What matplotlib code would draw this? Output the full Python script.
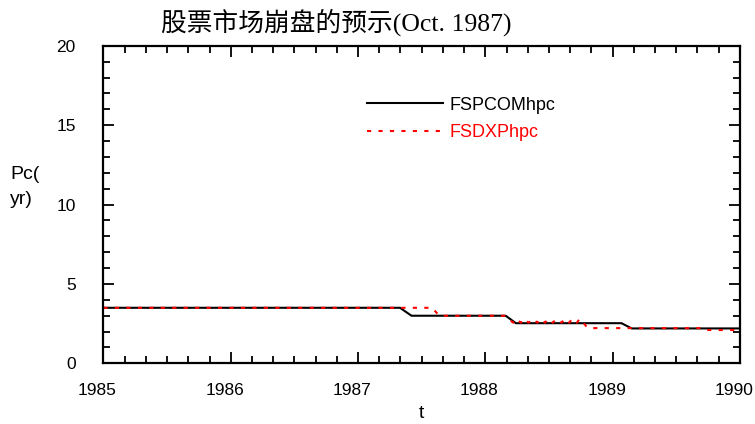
import matplotlib
matplotlib.use('Agg')
import matplotlib.pyplot as plt
import matplotlib.transforms as mtransforms
from matplotlib.ticker import MultipleLocator

plt.rcParams['font.family'] = ['Liberation Sans', 'DejaVu Sans']

# step curves of the two estimates
t_spcom = [1985.0, 1987.33, 1987.42, 1988.16, 1988.24, 1989.07, 1989.15, 1990.0]
pc_spcom = [3.5, 3.5, 3.0, 3.0, 2.53, 2.53, 2.2, 2.2]

t_dxp = [1985.0, 1987.58, 1987.64, 1988.15,
         1988.18, 1988.22, 1988.24, 1988.28, 1988.30, 1988.34, 1988.37, 1988.41,
         1988.43, 1988.47, 1988.49, 1988.53, 1988.56, 1988.60, 1988.62, 1988.66,
         1988.68, 1988.72, 1988.74, 1988.77,
         1988.79, 1988.81, 1989.70, 1989.72, 1990.0]
pc_dxp = [3.5, 3.5, 3.0, 3.0,
          2.8, 2.56, 2.8, 2.56, 2.8, 2.56, 2.8, 2.56,
          2.8, 2.56, 2.8, 2.56, 2.8, 2.56, 2.8, 2.56,
          2.8, 2.56, 2.8, 2.56,
          2.36, 2.22, 2.22, 2.1, 2.1]

year_ticks = [1985, 1986, 1987, 1988, 1989, 1990]
pc_ticks = [0, 5, 10, 15, 20]

fig = plt.figure(figsize=(7.55, 4.24), dpi=100)
ax = fig.add_axes([0.137, 0.143, 0.843, 0.749])

ax.plot(t_spcom, pc_spcom, color='black', lw=1.5, label='FSPCOMhpc')
ax.plot(t_dxp, pc_dxp, color='red', lw=1.5, linestyle=(0, (2, 3.5)), label='FSDXPhpc')

ax.set_xlim(1985, 1990)
ax.set_ylim(0, 20)
ax.set_xticks(year_ticks)
ax.set_yticks(pc_ticks)
ax.xaxis.set_minor_locator(MultipleLocator(1 / 6))
ax.yaxis.set_minor_locator(MultipleLocator(1))
ax.tick_params(which='both', direction='in', top=True, right=True, width=1.3, labelsize=12.5)
ax.tick_params(which='major', length=8)
ax.tick_params(which='minor', length=5)
ax.tick_params(axis='x', pad=14)
ax.tick_params(axis='y', pad=20)
for s in ax.spines.values():
    s.set_linewidth(1.6)

# year labels sit a bit left of their ticks
shift = mtransforms.ScaledTranslation(-6 / 100, 0, fig.dpi_scale_trans)
for lab in ax.get_xticklabels():
    lab.set_transform(lab.get_transform() + shift)

leg = ax.legend(loc='upper left', bbox_to_anchor=(0.414, 0.84), frameon=False,
                fontsize=13, handlelength=4.2, handletextpad=0.4,
                labelspacing=0.6, borderpad=0, borderaxespad=0)
leg.get_texts()[1].set_color('red')

fig.text(10 / 755, 1 - 187 / 424, 'Pc(\nyr)', fontsize=14, ha='left', va='center',
         linespacing=1.65)
fig.text(421 / 755, 1 - 414 / 424, 't', fontsize=14, ha='center', va='center')
fig.text(336 / 755, 1 - 22 / 424, '股票市场崩盘的预示(Oct. 1987)', fontsize=18.5,
         ha='center', va='center', family=['Liberation Serif', 'Noto Sans CJK SC'])

fig.savefig('out.png', dpi=100)
